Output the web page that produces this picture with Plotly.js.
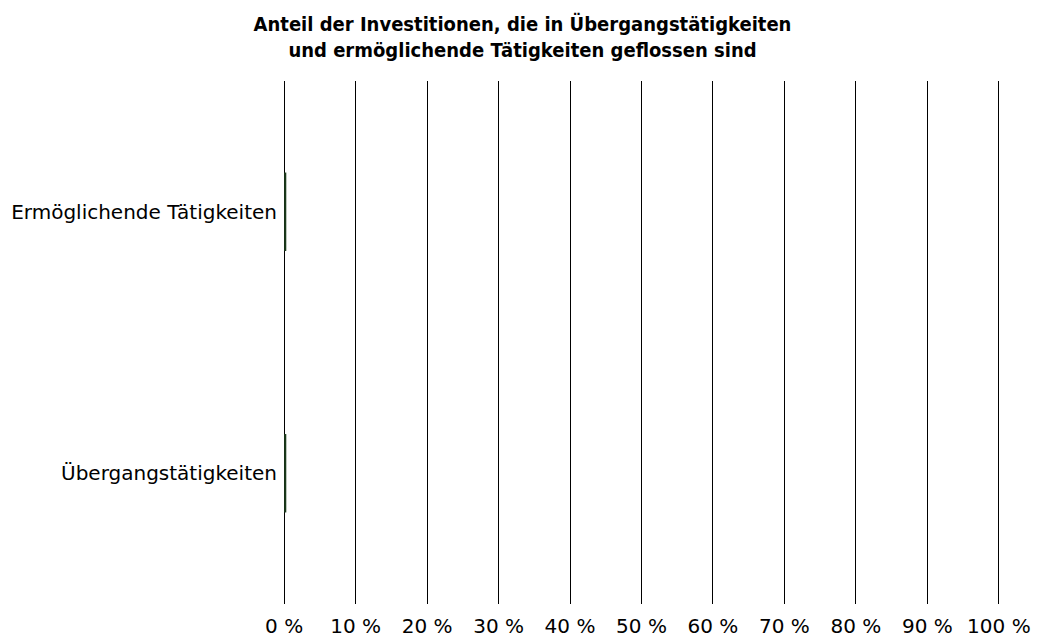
<!DOCTYPE html>
<html>
<head>
<meta charset="utf-8">
<script src="https://cdn.plot.ly/plotly-3.0.1.min.js"></script>
<style>html,body{margin:0;padding:0;background:#fff;}#chart{width:1045px;height:637px;}</style>
</head>
<body>
<div id="chart"></div>
<script>
const categories = ["Ermöglichende Tätigkeiten", "Übergangstätigkeiten"];
const values = [0.3, 0.3];
const tickValues = [0, 10, 20, 30, 40, 50, 60, 70, 80, 90, 100];
const tickLabels = ["0 %", "10 %", "20 %", "30 %", "40 %", "50 %", "60 %", "70 %", "80 %", "90 %", "100 %"];
const chartTitle = "<b>Anteil der Investitionen, die in Übergangstätigkeiten<br>und ermöglichende Tätigkeiten geflossen sind</b>";

const trace = {
  type: "bar",
  orientation: "h",
  x: values,
  y: categories,
  marker: {color: "#1b3a1b"},
  hoverinfo: "x+y"
};

const layout = {
  width: 1045,
  height: 637,
  paper_bgcolor: "#fff",
  plot_bgcolor: "#fff",
  margin: {l: 282, r: 44, t: 81, b: 33},
  bargap: 0.7,
  showlegend: false,
  title: {
    text: chartTitle,
    x: 0.5, xanchor: "center",
    y: 0.951, yanchor: "middle",
    yref: "container",
    font: {family: "DejaVu Sans Condensed, DejaVu Sans", size: 20, color: "#000"}
  },
  xaxis: {
    range: [-0.3, 100.3],
    tickvals: tickValues,
    ticktext: tickLabels,
    showgrid: true,
    gridcolor: "#000",
    gridwidth: 1,
    zeroline: false,
    showline: false,
    ticks: "",
    ticklabelstandoff: 8,
    tickfont: {family: "DejaVu Sans", size: 20, color: "#000"},
    fixedrange: true
  },
  yaxis: {
    type: "category",
    categoryorder: "array",
    categoryarray: categories,
    autorange: "reversed",
    showgrid: false,
    zeroline: false,
    showline: false,
    ticks: "",
    ticklabelstandoff: 4,
    tickfont: {family: "DejaVu Sans", size: 20, color: "#000"},
    fixedrange: true
  }
};

Plotly.newPlot("chart", [trace], layout, {displayModeBar: false, staticPlot: true});
</script>
</body>
</html>
